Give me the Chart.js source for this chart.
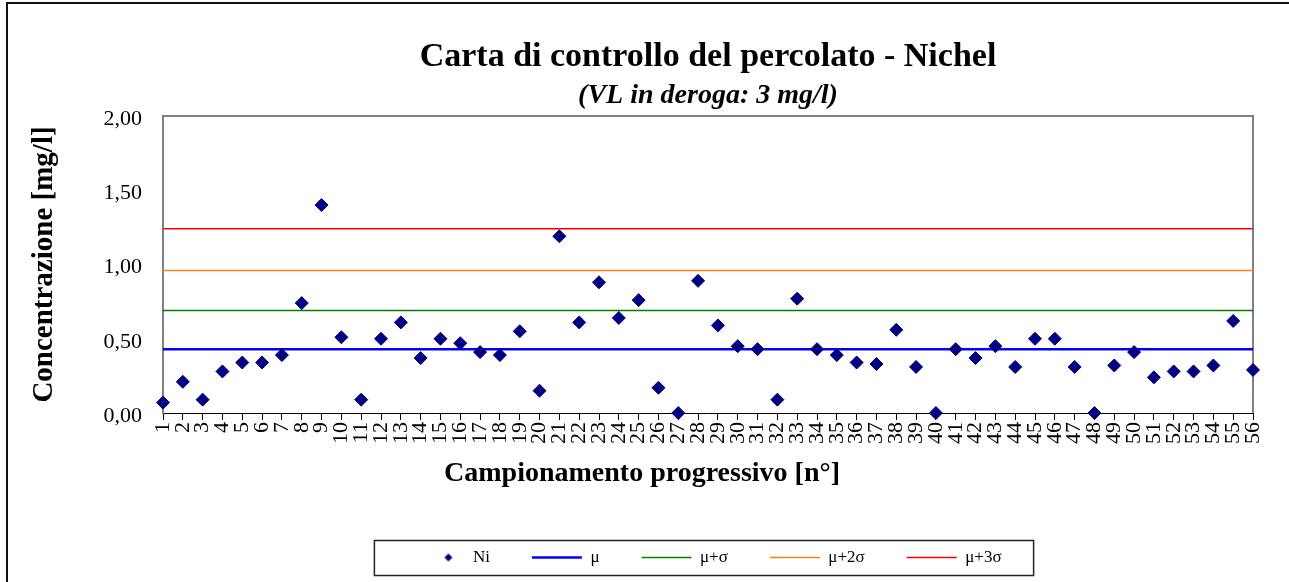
<!DOCTYPE html>
<html>
<head>
<meta charset="utf-8">
<script src="https://cdn.jsdelivr.net/npm/chart.js@4"></script>
<style>
  html, body { margin: 0; padding: 0; background: #fff; }
</style>
</head>
<body>
<canvas id="chart" width="1289" height="582"></canvas>
<script>
// dati
const campioni = ['1','2','3','4','5','6','7','8','9','10','11','12','13','14','15','16','17','18','19','20',
  '21','22','23','24','25','26','27','28','29','30','31','32','33','34','35','36','37','38','39','40',
  '41','42','43','44','45','46','47','48','49','50','51','52','53','54','55','56'];
const ni = [0.07, 0.21, 0.09, 0.28, 0.34, 0.34, 0.39, 0.74, 1.40, 0.51,
  0.09, 0.50, 0.61, 0.37, 0.50, 0.47, 0.41, 0.39, 0.55, 0.15,
  1.19, 0.61, 0.88, 0.64, 0.76, 0.17, 0.00, 0.89, 0.59, 0.45,
  0.43, 0.09, 0.77, 0.43, 0.39, 0.34, 0.33, 0.56, 0.31, 0.00,
  0.43, 0.37, 0.45, 0.31, 0.50, 0.50, 0.31, 0.00, 0.32, 0.41,
  0.24, 0.28, 0.28, 0.32, 0.62, 0.29];
const mu = 0.43;
const muSigma = 0.69;
const mu2Sigma = 0.96;
const mu3Sigma = 1.24;
const yTicks = [0, 0.5, 1, 1.5, 2];

const serif = "'Liberation Serif', 'Times New Roman', serif";
Chart.defaults.font.family = serif;
Chart.defaults.color = '#000';

// simbolo del rombo per la legenda (spostato a destra nel suo riquadro)
const diamond = document.createElement('canvas');
diamond.width = 40; diamond.height = 10;
const dctx = diamond.getContext('2d');
dctx.fillStyle = '#000080';
dctx.beginPath();
dctx.moveTo(29, 1); dctx.lineTo(33, 5); dctx.lineTo(29, 9); dctx.lineTo(25, 5);
dctx.closePath(); dctx.fill();

const flat = v => campioni.map(() => v);

// cornice esterna, bordo dell'area del grafico, titolo asse x, riquadro legenda
const frame = {
  id: 'frame',
  beforeDraw(chart) {
    const ctx = chart.ctx;
    ctx.save();
    ctx.fillStyle = '#fff';
    ctx.fillRect(0, 0, chart.width, chart.height);
    ctx.strokeStyle = '#111';
    ctx.lineWidth = 2;
    ctx.beginPath();
    ctx.moveTo(7, 600); ctx.lineTo(7, 3); ctx.lineTo(1300, 3);
    ctx.stroke();
    ctx.restore();
  },
  beforeDatasetsDraw(chart) {
    const {ctx, chartArea: a} = chart;
    ctx.save();
    ctx.strokeStyle = '#808080';
    ctx.lineWidth = 2;
    ctx.beginPath();
    ctx.moveTo(a.left, a.top); ctx.lineTo(a.right, a.top); ctx.lineTo(a.right, a.bottom);
    ctx.stroke();
    ctx.restore();
  },
  afterDraw(chart) {
    const ctx = chart.ctx;
    ctx.save();
    ctx.font = "bold 28px " + serif;
    ctx.fillStyle = '#000';
    ctx.textAlign = 'center';
    ctx.textBaseline = 'middle';
    ctx.fillText('Campionamento progressivo [n°]', 642, 474);
    const boxes = chart.legend.legendHitBoxes;
    if (boxes.length) {
      const l = Math.min(...boxes.map(b => b.left));
      const r = Math.max(...boxes.map(b => b.left + b.width));
      const cy = boxes[0].top + boxes[0].height / 2;
      ctx.strokeStyle = '#222';
      ctx.lineWidth = 1.5;
      ctx.strokeRect(l - 40, cy - 17, r - l + 72, 35);
    }
    ctx.restore();
  }
};

new Chart(document.getElementById('chart'), {
  type: 'line',
  data: {
    labels: campioni,
    datasets: [
      { label: 'Ni', data: ni, showLine: false, clip: false, pointStyle: 'rectRot', pointRadius: 6.5,
        pointHoverRadius: 6.5, backgroundColor: '#000080', borderColor: '#000080', borderWidth: 1 },
      { label: 'μ', data: flat(mu), borderColor: '#0000FF', backgroundColor: '#0000FF', borderWidth: 2.5, pointRadius: 0 },
      { label: 'μ+σ', data: flat(muSigma), borderColor: '#008000', backgroundColor: '#008000', borderWidth: 1.5, pointRadius: 0 },
      { label: 'μ+2σ', data: flat(mu2Sigma), borderColor: '#FF8020', backgroundColor: '#FF8020', borderWidth: 1.5, pointRadius: 0 },
      { label: 'μ+3σ', data: flat(mu3Sigma), borderColor: '#FF0000', backgroundColor: '#FF0000', borderWidth: 1.5, pointRadius: 0 }
    ]
  },
  options: {
    responsive: false,
    animation: false,
    devicePixelRatio: 1,
    layout: { padding: { left: 7, right: 36, top: 0, bottom: 6 } },
    plugins: {
      title: {
        display: true, fullSize: false,
        text: 'Carta di controllo del percolato - Nichel',
        font: { size: 34, weight: 'bold' },
        padding: { top: 36.6, bottom: 0 }
      },
      subtitle: {
        display: true, fullSize: false,
        text: '(VL in deroga: 3 mg/l)',
        font: { size: 28, weight: 'bold', style: 'italic' },
        padding: { top: 1.8, bottom: 3.2 }
      },
      legend: {
        position: 'bottom', fullSize: false,
        labels: {
          usePointStyle: true, pointStyleWidth: 50, padding: 42,
          font: { size: 17 },
          generateLabels: chart => chart.data.datasets.map((ds, i) => ({
            text: ds.label, datasetIndex: i, hidden: false,
            fillStyle: ds.borderColor, strokeStyle: ds.borderColor,
            lineWidth: i === 0 ? 0 : ds.borderWidth,
            pointStyle: i === 0 ? diamond : 'line'
          }))
        }
      },
      tooltip: { enabled: false }
    },
    scales: {
      x: {
        offset: false,
        grid: { drawOnChartArea: false, drawTicks: true, tickLength: 7, color: '#000' },
        border: { color: '#000', width: 1 },
        ticks: { autoSkip: false, minRotation: 90, maxRotation: 90, padding: 2, font: { size: 22 } },
        afterFit(scale) { scale.height = 94; }
      },
      y: {
        min: 0, max: 2,
        grid: { display: false, drawTicks: false },
        border: { color: '#808080', width: 2 },
        afterBuildTicks(scale) { scale.ticks = yTicks.map(v => ({ value: v })); },
        ticks: {
          padding: 21, labelOffset: 3, font: { size: 22 },
          callback: v => v.toFixed(2).replace('.', ',')
        },
        title: {
          display: true, text: 'Concentrazione [mg/l]',
          font: { size: 29, weight: 'bold' },
          padding: { top: 20.6, bottom: 0 }
        },
        afterFit(scale) { scale.width = 156; }
      }
    }
  },
  plugins: [frame]
});
</script>
</body>
</html>
